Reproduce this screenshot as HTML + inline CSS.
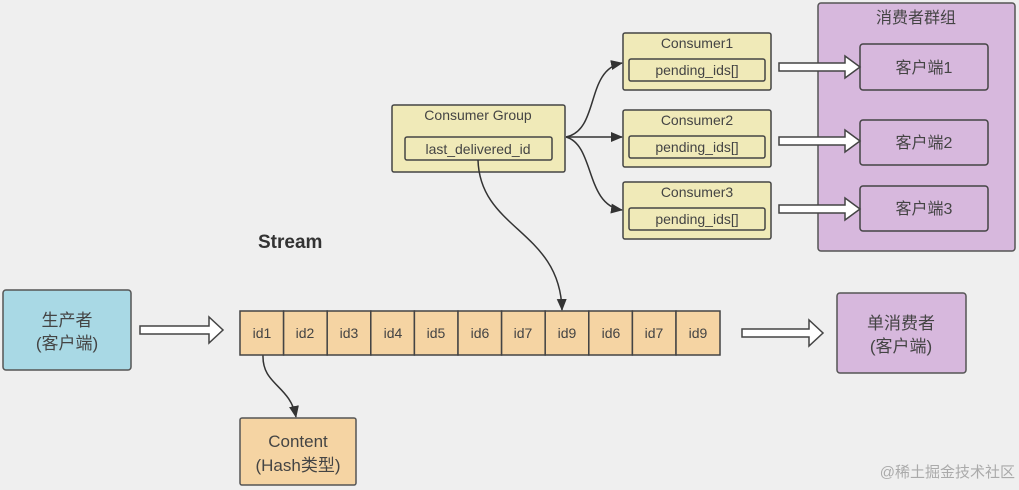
<!DOCTYPE html>
<html><head><meta charset="utf-8"><style>
html,body{margin:0;padding:0;background:#efefef;}
svg{display:block;font-family:"Liberation Sans","Noto Sans CJK SC",sans-serif;}
</style></head><body>
<svg width="1019" height="490" viewBox="0 0 1019 490">
<defs><marker id="ah" markerWidth="12" markerHeight="12" refX="11" refY="6" orient="auto" markerUnits="userSpaceOnUse"><path d="M0,1 L12,6 L0,11 Z" fill="#333"/></marker></defs>
<rect width="1019" height="490" fill="#efefef"/>
<rect x="818" y="3" width="197" height="248" rx="3" fill="#d7b8dd" stroke="#555" stroke-width="1.5"/>
<text x="916" y="23" font-size="16" text-anchor="middle" fill="#444">消费者群组</text>
<g fill="#d7b8dd" stroke="#444" stroke-width="1.5">
<rect x="860" y="44" width="128" height="46" rx="3"/>
<rect x="860" y="120" width="128" height="45" rx="3"/>
<rect x="860" y="186" width="128" height="45" rx="3"/>
</g>
<g font-size="16" text-anchor="middle" fill="#444">
<text x="924" y="73">客户端1</text><text x="924" y="148">客户端2</text><text x="924" y="214">客户端3</text>
</g>
<g fill="#f0eab8" stroke="#444" stroke-width="1.5">
<rect x="392" y="105" width="173" height="67" rx="2"/>
<rect x="623" y="33" width="148" height="57" rx="2"/>
<rect x="623" y="110" width="148" height="57" rx="2"/>
<rect x="623" y="182" width="148" height="57" rx="2"/>
<rect x="405" y="137" width="147" height="23" rx="2"/>
<rect x="629" y="59" width="136" height="22" rx="2"/>
<rect x="629" y="136" width="136" height="22" rx="2"/>
<rect x="629" y="208" width="136" height="22" rx="2"/>
</g>
<g font-size="14" text-anchor="middle" fill="#444">
<text x="478" y="120">Consumer Group</text>
<text x="478" y="154">last_delivered_id</text>
<text x="697" y="48">Consumer1</text><text x="697" y="75">pending_ids[]</text>
<text x="697" y="125">Consumer2</text><text x="697" y="152">pending_ids[]</text>
<text x="697" y="197">Consumer3</text><text x="697" y="224">pending_ids[]</text>
</g>
<g fill="none" stroke="#333" stroke-width="1.5">
<path d="M566,137 C600,130 585,70 622,63" marker-end="url(#ah)"/>
<path d="M566,137 L622,137" marker-end="url(#ah)"/>
<path d="M566,137 C595,145 585,205 622,210" marker-end="url(#ah)"/>
<path d="M478,160 C480,230 560,230 562,310" marker-end="url(#ah)"/>
<path d="M263,355 C262,385 290,385 296,417" marker-end="url(#ah)"/>
</g>
<g fill="#fff" stroke="#444" stroke-width="1.5">
<path d="M779,63 L845,63 L845,56 L860,67 L845,78 L845,71 L779,71 Z"/>
<path d="M779,137 L845,137 L845,130 L860,141 L845,152 L845,145 L779,145 Z"/>
<path d="M779,205 L845,205 L845,198 L860,209 L845,220 L845,213 L779,213 Z"/>
<path d="M140,326 L209,326 L209,317 L223,330 L209,343 L209,334 L140,334 Z"/>
<path d="M742,329 L809,329 L809,320 L823,333 L809,346 L809,337 L742,337 Z"/>
</g>
<text x="258" y="248" font-size="19" font-weight="bold" fill="#333">Stream</text>
<rect x="3" y="290" width="128" height="80" rx="3" fill="#a9d9e5" stroke="#555" stroke-width="1.5"/>
<text x="67" y="326" font-size="17" text-anchor="middle" fill="#444">生产者</text>
<text x="67" y="349" font-size="17" text-anchor="middle" fill="#444">(客户端)</text>
<rect x="837" y="293" width="129" height="80" rx="3" fill="#d7b8dd" stroke="#555" stroke-width="1.5"/>
<text x="901" y="329" font-size="17" text-anchor="middle" fill="#444">单消费者</text>
<text x="901" y="352" font-size="17" text-anchor="middle" fill="#444">(客户端)</text>
<g fill="#f5d4a3" stroke="#444" stroke-width="1.5">
<rect x="240" y="311" width="43.6" height="44"/><rect x="283.6" y="311" width="43.6" height="44"/><rect x="327.2" y="311" width="43.6" height="44"/><rect x="370.8" y="311" width="43.6" height="44"/><rect x="414.4" y="311" width="43.6" height="44"/><rect x="458" y="311" width="43.6" height="44"/><rect x="501.6" y="311" width="43.6" height="44"/><rect x="545.2" y="311" width="43.6" height="44"/><rect x="588.8" y="311" width="43.6" height="44"/><rect x="632.4" y="311" width="43.6" height="44"/><rect x="676" y="311" width="44" height="44"/>
</g>
<g font-size="14" text-anchor="middle" fill="#444">
<text x="262" y="338">id1</text><text x="305" y="338">id2</text><text x="349" y="338">id3</text><text x="393" y="338">id4</text><text x="436" y="338">id5</text><text x="480" y="338">id6</text><text x="523" y="338">id7</text><text x="567" y="338">id9</text><text x="611" y="338">id6</text><text x="654" y="338">id7</text><text x="698" y="338">id9</text>
</g>
<rect x="240" y="418" width="116" height="67" rx="2" fill="#f5d4a3" stroke="#555" stroke-width="1.5"/>
<text x="298" y="447" font-size="17" text-anchor="middle" fill="#444">Content</text>
<text x="298" y="471" font-size="17" text-anchor="middle" fill="#444">(Hash类型)</text>
<text x="1015" y="477" font-size="15" text-anchor="end" fill="#aaa">@稀土掘金技术社区</text>
</svg>
</body></html>
